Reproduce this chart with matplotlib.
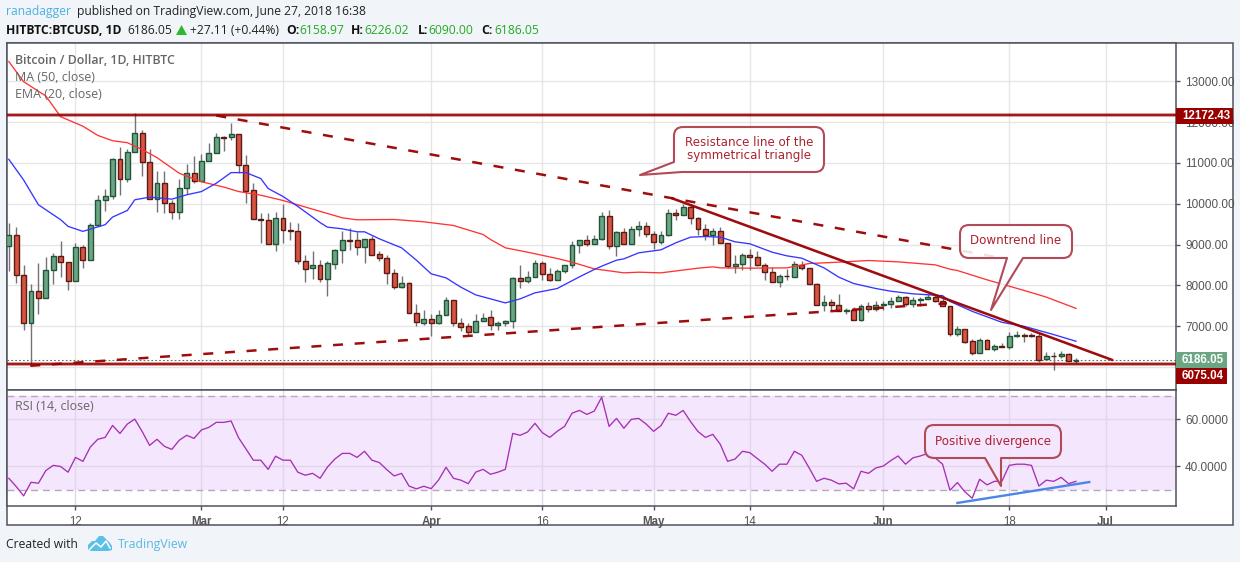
import numpy as np
import matplotlib
matplotlib.use("Agg")
import matplotlib.pyplot as plt
from matplotlib.path import Path
from matplotlib.patches import PathPatch, Rectangle, Polygon

# ---------- data ----------
first_day, last_day = -9, 135   # days counted from 12 Feb 2018
opens = [8967,9228,8244,7073,7854,7683,8390,8732,8585,8098,
         8951,8634,9480,10089,10195,11106,10610,11276,11740,11032,
         10106,10520,10008,9805,10390,10764,10561,11057,11252,11642,
         11634,11715,10959,10350,9626,9602,9016,9650,9358,9340,
         8602,8431,8504,8154,8521,8873,9118,9118,8946,9142,
         8775,8676,8309,7966,8064,7328,7075,7181,7075,7279,
         7647,7083,7010,6863,7132,7230,7026,7083,7132,8186,
         8105,8203,8554,8284,8129,8358,8505,8995,9118,9020,
         9142,9706,8971,9314,9020,9387,9461,9265,9069,9240,
         9780,9730,9926,9657,9387,9240,9338,9044,8480,8529,
         8750,8701,8505,8325,8088,8235,8203,8505,8431,8039,
         7533,7598,7525,7370,7402,7149,7500,7418,7525,7541,
         7614,7721,7541,7639,7672,7729,7623,7500,6806,6935,
         6642,6341,6667,6447,6520,6496,6756,6780,6797,6772,
         6195,6276,6276,6325,6158.97]
closes = [9228,8260,7073,7854,7683,8390,8732,8585,8098,8951,
          8634,9480,10089,10195,11106,10610,11276,11740,11032,10106,
          10520,10008,9805,10398,10764,10561,11057,11252,11642,11620,
          11715,10959,10325,9626,9610,9016,9650,9358,9340,8602,
          8407,8504,8163,8538,8873,9118,9100,8946,9142,8750,
          8676,8300,7966,8064,7328,7108,7181,7075,7279,7647,
          7075,6985,6863,7132,7206,7026,7083,7132,8186,8105,
          8211,8554,8276,8129,8358,8505,8995,9118,9020,9142,
          9706,8971,9314,9020,9387,9461,9265,9069,9240,9780,
          9730,9926,9649,9379,9240,9338,9036,8480,8529,8750,
          8693,8497,8325,8088,8235,8225,8529,8423,8039,7525,
          7598,7517,7370,7402,7149,7500,7427,7525,7550,7623,
          7721,7541,7647,7672,7721,7614,7492,6806,6935,6610,
          6341,6667,6447,6520,6496,6764,6797,6770,6756,6179,
          6276,6270,6333,6154,6186.05]
highs = [9520,9440,8496,8033,8561,8707,8805,9098,8585,9033,
         9000,9520,10220,10374,11130,11382,11333,12228,11797,11333,
         10797,10797,10090,10602,10984,11171,11211,11480,11724,11660,
         11967,11715,11187,10504,9780,9780,9805,10000,9561,9528,
         8756,8854,8618,8611,8905,9322,9412,9306,9142,9208,
         8856,8734,8391,8243,8080,7557,7410,7312,7410,7721,
         7647,7214,7083,7312,7328,7402,7140,7165,8203,8489,
         8342,8619,8611,8431,8391,8505,9101,9118,9224,9224,
         9804,9837,9338,9412,9461,9583,9559,9330,9330,9877,
         9861,10000,10000,9681,9494,9412,9420,9044,8734,8799,
         8897,8856,8538,8456,8292,8391,8587,8587,8431,8064,
         7778,7680,7803,7451,7475,7557,7598,7631,7631,7712,
         7778,7754,7712,7721,7795,7795,7696,7500,7000,6935,
         6691,6724,6691,6569,6593,6870,6878,6837,6837,6853,
         6382,6366,6398,6350,6226.02]
lows = [8358,8057,6919,6065,7300,7683,8041,8211,7894,8098,
        8431,8634,9447,9829,10114,10220,10537,11276,10683,10106,
        9789,9772,9626,9626,10236,10504,10561,11057,11252,11293,
        11561,10764,10016,9626,9040,9016,8837,9033,9106,8520,
        8089,8154,8089,7737,8399,8562,8873,8742,8546,8750,
        8587,8031,7908,7933,7328,7018,7042,6773,7059,7279,
        7018,6879,6773,6855,7132,6904,6920,7002,6953,7949,
        8056,8203,8129,8105,8129,8301,8423,8791,8962,9020,
        9110,8897,8717,9020,9020,9208,9191,8881,9020,9208,
        9600,9730,9510,9232,9110,9003,9036,8423,8309,8374,
        8374,8472,8145,8080,7958,8145,8203,8374,8039,7525,
        7386,7386,7370,7312,7149,7124,7345,7370,7410,7451,
        7614,7508,7467,7508,7672,7590,7492,6757,6756,6593,
        6293,6341,6447,6390,6496,6447,6740,6610,6740,6122,
        6170,5927,6228,6146,6090.00]
ma_days = [-9,-7,-4,-2,1,3,5,7,9,11,14,17,20,22,25,28,33,36,38,43,47,51,55,56,58,61,65,67,70,74,76,79,84,86,87,91,96,99,102,107,111,116,118,119,123,128,131,135]
ma_vals = [13485,12990,12640,12133,11900,11675,11545,11496,11330,11130,10748,10540,10410,10301,10211,10081,9815,9657,9608,9616,9559,9469,9248,9126,8922,8815,8660,8570,8407,8309,8325,8309,8423,8456,8431,8423,8431,8538,8562,8611,8578,8505,8398,8366,8138,7878,7715,7439]
ema_days = [-9,-7,-5,-2,-1,1,4,5,7,8,10,13,15,17,19,21,23,25,26,28,30,33,34,36,38,39,41,44,46,48,50,52,54,58,60,62,65,68,70,71,73,74,76,79,81,83,85,87,89,91,94,96,98,101,103,105,108,110,113,117,118,121,125,128,132,135]
ema_vals = [11090,10583,9976,9610,9447,9325,9488,9675,9837,10098,10163,10114,10220,10300,10504,10764,10764,10618,10374,10179,9935,9540,9428,9387,9314,9314,9142,8922,8619,8284,8186,7958,7770,7573,7672,7819,7925,8211,8391,8472,8619,8652,8799,8873,9044,9183,9199,9183,9069,9020,8815,8725,8668,8431,8203,8048,7925,7860,7795,7750,7610,7366,7098,7000,6797,6634]
rsi_vals = [34.9,31.4,27.4,33.2,32.8,38.2,40.4,39.9,37.5,43.8,
            42.1,48.2,51.5,52.3,57.4,54.0,58.0,60.1,54.8,48.9,
            51.5,48.5,47.2,51.1,53.2,51.9,55.5,56.6,58.7,58.7,
            59.3,52.2,47.4,42.6,42.6,38.7,44.3,42.6,42.6,37.5,
            36.2,37.0,34.9,39.7,43.1,45.5,45.5,43.8,46.4,42.6,
            41.6,38.6,35.9,37.0,31.6,30.4,31.5,30.5,34.2,39.6,
            34.9,34.1,32.6,37.5,38.7,36.6,37.5,38.7,54.0,53.2,
            54.6,58.3,54.3,52.3,54.9,57.0,62.6,63.8,62.1,63.5,
            69.4,57.0,60.4,56.2,60.0,60.4,58.0,54.9,57.3,62.6,
            61.7,63.8,59.0,54.8,52.3,53.6,49.4,42.1,43.1,46.4,
            45.8,43.3,40.9,37.9,40.9,40.9,46.4,44.7,39.3,33.6,
            34.9,34.1,32.5,32.8,30.4,37.9,37.0,39.3,40.1,42.4,
            44.4,40.9,43.6,44.4,45.5,43.6,40.9,29.8,33.1,29.2,
            26.4,34.5,32.1,33.6,33.6,40.4,40.9,40.9,40.4,31.6,
            34.1,33.6,35.3,32.6,33.6]
resistance_line = ([19.0, 125.2], [12162, 8665])
support_line = ([-6.1, 117.6], [6033, 7563])
downtrend_line = ([80.5, 139.9], [10135, 6175])
rsi_trend = ([119.0, 136.8], [24.4, 33.3])
level_high, level_low, last_close = 12172.43, 6075.04, 6186.05
price_ticks = [6000,7000,8000,9000,10000,11000,12000,13000]
price_labels = ["","7000.00","8000.00","9000.00","10000.00","11000.00","12000.00","13000.00"]
rsi_ticks = [40, 60]
rsi_labels = ["40.0000", "60.0000"]
time_ticks = [0,17,28,48,63,78,91,109,126,139]
time_labels = ["12","Mar","12","Apr","16","May","14","Jun","18","Jul"]
month_labels = {"Mar","Apr","May","Jun","Jul"}

# ---------- style ----------
W, H = 1240, 562
UP, DOWN, UP_E, DOWN_E, WICK = "#6ba583", "#d75442", "#225437", "#5b1a13", "#737375"
BG, FRAME, GRID, DKRED = "#f1f4f8", "#50535e", "#e6e6e6", "#990000"
TXT = "#555555"
SANS = "Open Sans"
ARIAL = "Liberation Sans"

fig = plt.figure(figsize=(W/100, H/100), dpi=100, facecolor=BG)

def rect(x0, ytop, x1, ybot):
    return [x0/W, 1-ybot/H, (x1-x0)/W, (ybot-ytop)/H]

bg = fig.add_axes([0,0,1,1], zorder=0)
bg.set_xlim(0,W); bg.set_ylim(H,0); bg.axis("off")
bg.add_patch(Rectangle((6.5,43), 1226.5, 482, fc="white", ec=FRAME, lw=1.1))

ax = fig.add_axes(rect(6.5,43,1176,389.5), zorder=1)
rs = fig.add_axes(rect(6.5,389.5,1176,506), zorder=1)
xlim = (-9.31, 148.5)
ax.set_xlim(*xlim); rs.set_xlim(*xlim)
ax.set_ylim(5452, 13938); rs.set_ylim(23.1, 72.7)

for a in (ax, rs):
    a.set_xticks(time_ticks)
    a.grid(True, color=GRID, lw=1.0, zorder=0)
    a.set_axisbelow(True)
    a.yaxis.tick_right()
    a.tick_params(axis="y", length=3, width=1, color=FRAME, pad=3.5, labelsize=8.5, labelcolor=TXT)
    for s in a.spines.values():
        s.set_color(FRAME); s.set_linewidth(1.1)
ax.set_yticks(price_ticks); ax.set_yticklabels(price_labels, family=ARIAL)
rs.set_yticks(rsi_ticks); rs.set_yticklabels(rsi_labels, family=ARIAL)
ax.tick_params(axis="x", length=0, labelbottom=False)
rs.tick_params(axis="x", length=3, width=1, color=FRAME, pad=4)
rs.set_xticklabels(time_labels, family=ARIAL, fontsize=8.3, color=TXT)
for lab, s in zip(rs.get_xticklabels(), time_labels):
    if s in month_labels:
        lab.set_fontweight("bold")

# candles
days = np.arange(first_day, last_day+1)
o, c, hi, lo = map(np.array, (opens, closes, highs, lows))
up = c >= o
ax.vlines(days, lo, hi, color=WICK, lw=1.0, zorder=3)
ax.bar(days, np.abs(c-o), bottom=np.minimum(o,c), width=0.66,
       color=[UP if u else DOWN for u in up],
       edgecolor=[UP_E if u else DOWN_E for u in up], linewidth=1.0, zorder=4)

# moving averages
ax.plot(ma_days, ma_vals, color="#ff3333", lw=0.95, zorder=5)
ax.plot(ema_days, ema_vals, color="#3535ff", lw=0.95, zorder=5)

# levels
for lev in (level_high, level_low):
    ax.axhline(lev, color=DKRED, lw=2.9, alpha=0.38, zorder=5)
    ax.axhline(lev, color=DKRED, lw=1.2, zorder=6)
ax.axhline(last_close, color=UP_E, lw=0.8, ls=(0,(1.5,2)), alpha=0.8, zorder=2)

# drawn lines
for xs, ys in (resistance_line, support_line):
    ax.plot(xs, ys, color=DKRED, lw=1.8, ls=(0,(4.0,4.67)), zorder=7, alpha=0.95)
ax.plot(*downtrend_line, color=DKRED, lw=1.85, zorder=7, solid_capstyle="round", alpha=0.95)

# RSI
rs.axhspan(30, 70, color="#f4e6fd", zorder=0.5, lw=0)
rs.grid(True, color="#e3d5ea", lw=1.0)
rs.axhline(70, color="#b9a4c2", lw=1.0, ls=(0,(5,3.5)), zorder=1)
rs.axhline(30, color="#b9a4c2", lw=1.0, ls=(0,(5,3.5)), zorder=1)
rs.plot(days, rsi_vals, color="#a62fb5", lw=0.95, zorder=3)
rs.plot(*rsi_trend, color="#4a86e8", lw=1.7, zorder=4, clip_on=False)

# ---------- overlay (pixel coordinates) ----------
ov = fig.add_axes([0,0,1,1], zorder=3)
ov.set_xlim(0,W); ov.set_ylim(H,0); ov.axis("off"); ov.patch.set_alpha(0)

def callout(x0, y0, x1, y1, pointer, fc, alpha, r=9):
    """rounded box with a pointer on its bottom edge"""
    V, C = [(x0+r, y0)], [Path.MOVETO]
    def L(p): V.append(p); C.append(Path.LINETO)
    def Q(c, p): V.extend([c, p]); C.extend([Path.CURVE3, Path.CURVE3])
    L((x1-r, y0)); Q((x1,y0), (x1,y0+r))
    L((x1, y1-r)); Q((x1,y1), (x1-r,y1))
    for p in pointer: L(p)
    L((x0+r, y1)); Q((x0,y1), (x0,y1-r))
    L((x0, y0+r)); Q((x0,y0), (x0+r,y0))
    ov.add_patch(PathPatch(Path(V, C), fc=(*matplotlib.colors.to_rgb(fc), alpha),
                           ec="#b24a58", lw=1.5, zorder=10, joinstyle="round"))

RED_T = "#ad2230"
# resistance callout: pointer leaves from the lower-left corner
V = [(683,127),(815,127),(824,127),(824,136),(824,163),(824,172),(815,172),(682,172),(640,175),(674,162),(674,136),(674,127),(683,127)]
C = [Path.MOVETO,Path.LINETO,Path.CURVE3,Path.CURVE3,Path.LINETO,Path.CURVE3,Path.CURVE3,Path.LINETO,Path.LINETO,Path.LINETO,Path.LINETO,Path.CURVE3,Path.CURVE3]
ov.add_patch(PathPatch(Path(V,C), fc=(1,1,1,0.92), ec="#b24a58", lw=1.5, zorder=10, joinstyle="round"))
callout(960,225,1072,258, [(1023,258),(991,310),(1007,258)], "#ffffff", 0.88)
callout(925,425,1061,458, [(1001,458),(1001,486),(985,458)], "#f4e6fd", 0.95)

kw = dict(family="DejaVu Sans", fontsize=8.55, color=RED_T, ha="center", va="center", zorder=11)
ov.text(749, 143, "Resistance line of the", **kw)
ov.text(749, 155, "symmetrical triangle", **kw)
ov.text(1016, 241, "Downtrend line", **kw)
ov.text(993, 441, "Positive divergence", **kw)

# price boxes
def pricebox(y0, y1, x1, xc, txt, col):
    ov.add_patch(Rectangle((1176,y0), x1-1176, y1-y0, fc=col, ec="none", zorder=12))
    ov.text(xc, (y0+y1)/2, txt, color="white", family=ARIAL, fontweight="bold",
            fontsize=8.3, ha="center", va="center", zorder=13)
pricebox(108,124,1233,1206,"12172.43",DKRED)
pricebox(352,368,1227,1203,"6186.05",UP)
pricebox(368,384,1227,1203,"6075.04",DKRED)

# indicator titles
tk = dict(family=SANS, fontsize=8.9, color="#666666", va="center")
ov.text(15, 60.5, "Bitcoin / Dollar, 1D, HITBTC", fontweight="semibold", **tk)
ov.text(15, 77.5, "MA (50, close)", **tk)
ov.text(15, 94.5, "EMA (20, close)", **tk)
ov.text(15, 406.5, "RSI (14, close)", **tk)

# header
hk = dict(family=SANS, fontsize=8.7, va="center")
ov.text(6, 11.5, "ranadagger", color="#4db1df", **hk)
ov.text(77, 11.5, "published on TradingView.com, June 27, 2018 16:38", color="#222222", **hk)
ov.text(6, 30, "HITBTC:BTCUSD, 1D", color="#111111", fontweight="bold", **hk)
ov.text(127, 30, "6186.05", color="#222222", **hk)
ov.add_patch(Polygon([(176,35),(187,35),(181.5,25)], fc="#2eb82e", ec="none"))
ov.text(190, 30, "+27.11 (+0.44%)", color="#222222", **hk)
for lx, vx, lab, val in ((286,299,"O:","6158.97"),(351,364,"H:","6226.02"),(418,428,"L:","6090.00"),(481,494,"C:","6186.05")):
    ov.text(lx, 30, lab, color="#111111", fontweight="bold", **hk)
    ov.text(vx, 30, val, color="#22aa22", **hk)

# footer
ov.text(6, 544.5, "Created with", color="#222222", **hk)
ov.add_patch(Polygon([(88,549),(88,545),(92,541),(95,541),(99,536),(103,536),(107,540),(110,543),(112,546),(112,550),(108,551),(91,551)],
                     fc="#5bc0e8", ec="none"))
ov.plot([90,96,101,106,110],[549,543,547,541,548], color="white", lw=1.1)
ov.text(118, 544.5, "TradingView", color="#5cb8e4", family=SANS, fontsize=8.8, va="center")

fig.savefig("out.png", dpi=100, facecolor=BG)
